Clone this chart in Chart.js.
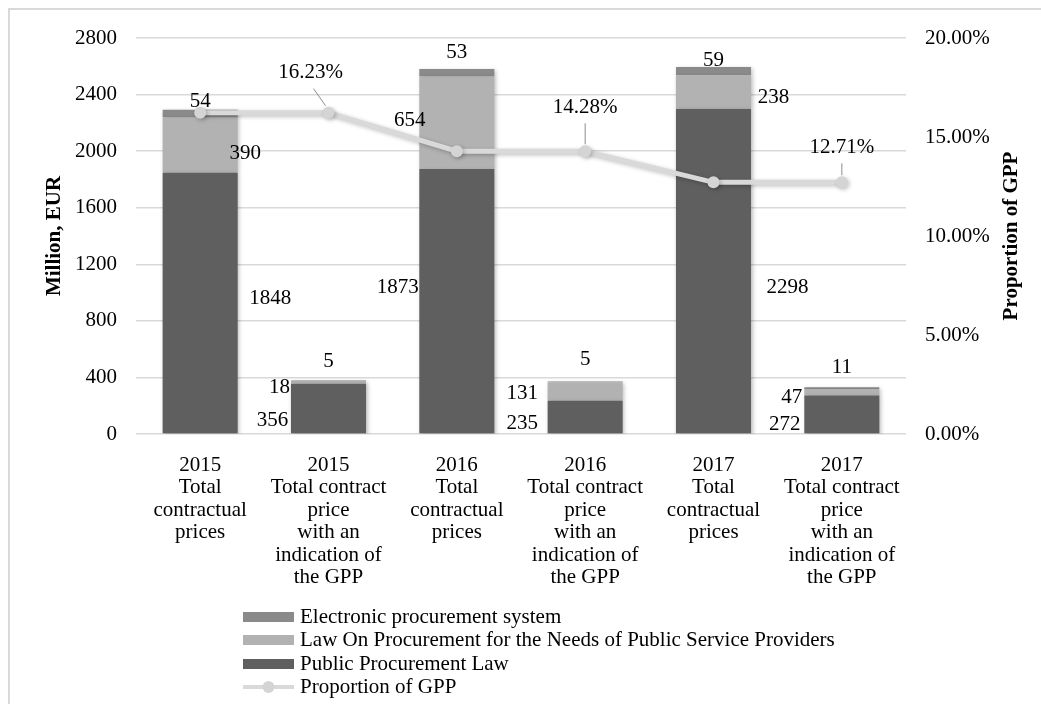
<!DOCTYPE html>
<html>
<head>
<meta charset="utf-8">
<script src="https://cdn.jsdelivr.net/npm/chart.js@4.4.1/dist/chart.umd.min.js"></script>
<style>
  html, body { margin: 0; padding: 0; background: #fff; overflow: hidden; }
  #wrap { position: relative; width: 1041px; height: 704px; }
  #frame { position: absolute; left: 8px; top: 8px; width: 1100px; height: 800px; border: 2px solid #d9d9d9; box-sizing: border-box; }
  #c { position: absolute; left: 0; top: 0; }
</style>
</head>
<body>
<div id="wrap">
  <div id="frame"></div>
  <canvas id="c" width="1041" height="704"></canvas>
</div>
<script>
// categories (x axis), multi-line
const categories = [
    ["2015", "Total", "contractual", "prices"],
    ["2015", "Total contract", "price", "with an", "indication of", "the GPP"],
    ["2016", "Total", "contractual", "prices"],
    ["2016", "Total contract", "price", "with an", "indication of", "the GPP"],
    ["2017", "Total", "contractual", "prices"],
    ["2017", "Total contract", "price", "with an", "indication of", "the GPP"]
];

// million EUR
const publicProcurementLaw = [1848, 356, 1873, 235, 2298, 272];
const serviceProvidersLaw = [390, 18, 654, 131, 238, 47];
const electronicSystem = [54, 5, 53, 5, 59, 11];

// proportion of GPP, %
const gppShare = [16.23, 16.23, 14.28, 14.28, 12.71, 12.71];
const gppLabelShown = [false, true, false, true, false, true];

const leftTicks = [0, 400, 800, 1200, 1600, 2000, 2400, 2800];
const rightTicks = [0, 5, 10, 15, 20];

const FONT = "'Liberation Serif', 'Times New Roman', serif";
const FS = 21;
Chart.defaults.font.family = FONT;
Chart.defaults.color = "#000";

// label offsets from the middle of each segment (dx, dy) - style only
const labelOffsets = [
    [[70, -4], [-56, 12], [-59, -14], [-63, 6], [74, 16], [-57, 10]],
    [[45, 8], [-49, 5], [-47, -2], [-63, 2], [60, 5], [-50, 5]],
    [[0, -12], [0, -19], [0, -20], [0, -22], [0, -11], [0, -21]]
];
const lineLabelOffsets = [null, [-18, -40], null, [0, -44], null, [0, -35]];

const shadowPlugin = {
    id: "shadow",
    beforeDatasetDraw(chart, args) {
        const ctx = chart.ctx;
        ctx.save();
        ctx.shadowColor = "rgba(0,0,0,0.25)";
        ctx.shadowBlur = 4;
        ctx.shadowOffsetX = 1.5;
        ctx.shadowOffsetY = 1.5;
    },
    afterDatasetDraw(chart) {
        chart.ctx.restore();
    }
};

const labelsPlugin = {
    id: "valueLabels",
    afterDatasetsDraw(chart) {
        const ctx = chart.ctx;
        ctx.save();
        ctx.font = FS + "px " + FONT;
        ctx.fillStyle = "#000";
        ctx.textAlign = "center";
        ctx.textBaseline = "middle";
        for (let d = 0; d < 3; d++) {
            const meta = chart.getDatasetMeta(d);
            meta.data.forEach(function(bar, i) {
                const cy = (bar.y + bar.base) / 2;
                const off = labelOffsets[d][i];
                ctx.fillText(String(chart.data.datasets[d].data[i]), bar.x + off[0], cy + off[1]);
            });
        }
        // line labels with leader lines
        const lm = chart.getDatasetMeta(3);
        lm.data.forEach(function(pt, i) {
            if (!gppLabelShown[i]) return;
            const off = lineLabelOffsets[i];
            const tx = pt.x + off[0], ty = pt.y + off[1];
            ctx.fillText(gppShare[i].toFixed(2) + "%", tx, ty);
            ctx.beginPath();
            ctx.strokeStyle = "#8c8c8c";
            ctx.lineWidth = 1;
            ctx.moveTo(tx + (off[0] ? 3 : 0), ty + 16);
            ctx.lineTo(pt.x - (off[0] ? 3 : 0), pt.y - 7);
            ctx.stroke();
        });
        ctx.restore();
    },
    afterDraw(chart) {
        const ctx = chart.ctx;
        ctx.save();
        // right axis title, reading bottom to top
        ctx.font = "bold " + FS + "px " + FONT;
        ctx.fillStyle = "#000";
        ctx.textAlign = "center";
        ctx.textBaseline = "middle";
        ctx.translate(1012, (chart.chartArea.top + chart.chartArea.bottom) / 2);
        ctx.rotate(-Math.PI / 2);
        ctx.fillText("Proportion of GPP", 0, 0);
        ctx.restore();

        // legend, one item per row
        ctx.save();
        ctx.font = FS + "px " + FONT;
        ctx.textBaseline = "middle";
        ctx.textAlign = "left";
        const order = [2, 1, 0, 3];
        const rowY = [617, 640, 664, 687];
        order.forEach(function(d, k) {
            const ds = chart.data.datasets[d];
            const y = rowY[k];
            if (ds.type === "line") {
                ctx.strokeStyle = ds.borderColor;
                ctx.lineWidth = 4;
                ctx.beginPath();
                ctx.moveTo(243, y);
                ctx.lineTo(294, y);
                ctx.stroke();
                ctx.fillStyle = ds.pointBackgroundColor;
                ctx.beginPath();
                ctx.arc(268.5, y, 6, 0, Math.PI * 2);
                ctx.fill();
            } else {
                ctx.fillStyle = ds.backgroundColor;
                ctx.fillRect(243, y - 5, 51, 10);
            }
            ctx.fillStyle = "#000";
            ctx.fillText(ds.label, 300, y);
        });
        ctx.restore();
    }
};

new Chart(document.getElementById("c"), {
    type: "bar",
    data: {
        labels: categories,
        datasets: [{
            label: "Public Procurement Law",
            data: publicProcurementLaw,
            backgroundColor: "#5f5f5f",
            yAxisID: "y",
            order: 1
        }, {
            label: "Law On Procurement for the Needs of Public Service Providers",
            data: serviceProvidersLaw,
            backgroundColor: "#b2b2b2",
            yAxisID: "y",
            order: 1
        }, {
            label: "Electronic procurement system",
            data: electronicSystem,
            backgroundColor: "#8a8a8a",
            yAxisID: "y",
            order: 1
        }, {
            type: "line",
            label: "Proportion of GPP",
            data: gppShare,
            borderColor: "#d9d9d9",
            borderWidth: 5,
            pointRadius: 6,
            pointBackgroundColor: "#d4d4d4",
            pointBorderWidth: 0,
            tension: 0,
            yAxisID: "y1",
            order: 0
        }]
    },
    options: {
        responsive: false,
        animation: false,
        layout: { padding: { top: 38, bottom: 104, left: 0, right: 0 } },
        datasets: { bar: { barPercentage: 0.585, categoryPercentage: 1 } },
        plugins: {
            legend: { display: false },
            tooltip: { enabled: false }
        },
        scales: {
            x: {
                stacked: true,
                grid: { display: false },
                border: { display: false },
                ticks: { font: { size: FS, lineHeight: 1.07 }, padding: 12, maxRotation: 0, autoSkip: false },
                afterFit(s) { s.height = 166; }
            },
            y: {
                stacked: true,
                position: "left",
                min: 0, max: 2800,
                afterBuildTicks(s) { s.ticks = leftTicks.map(v => ({ value: v })); },
                grid: { color: "#d9d9d9", lineWidth: 1.5, drawTicks: false },
                border: { display: false },
                ticks: { font: { size: FS }, padding: 19, callback: v => String(v) },
                title: { display: true, text: "Million, EUR", font: { size: FS, weight: "bold" }, padding: { top: 42, bottom: 0 } },
                afterFit(s) { s.width = 136; }
            },
            y1: {
                position: "right",
                min: 0, max: 20,
                afterBuildTicks(s) { s.ticks = rightTicks.map(v => ({ value: v })); },
                grid: { drawOnChartArea: false, drawTicks: false },
                border: { display: false },
                ticks: { font: { size: FS }, padding: 19, callback: v => v.toFixed(2) + "%" },
                afterFit(s) { s.width = 135; }
            }
        }
    },
    plugins: [shadowPlugin, labelsPlugin]
});
</script>
</body>
</html>
